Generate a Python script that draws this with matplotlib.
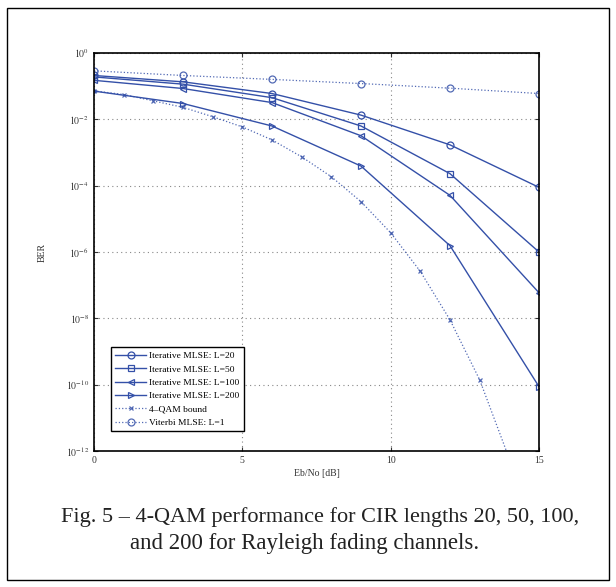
import math
import matplotlib
matplotlib.use("Agg")
import matplotlib.pyplot as plt
from matplotlib.patches import Rectangle
from matplotlib.ticker import FixedLocator, FuncFormatter

plt.rcParams['font.family'] = ['Liberation Serif', 'DejaVu Serif']
plt.rcParams['mathtext.fontset'] = 'stix'

# ---- data ----
snr_iter = [0, 3, 6, 9, 12, 15]
ber_L20 = [0.21, 0.135, 0.06, 0.0134, 1.7e-3, 8.9e-5]
ber_L50 = [0.19, 0.115, 0.045, 0.0063, 2.3e-4, 1.0e-6]
ber_L100 = [0.15, 0.085, 0.032, 0.0032, 5.1e-5, 5.9e-8]
ber_L200 = [0.071, 0.030, 0.0063, 3.9e-4, 1.55e-6, 8.7e-11]
snr_bound = [0, 1, 2, 3, 4, 5, 6, 7, 8, 9, 10, 11, 12, 13, 14]
ber_bound = [0.072, 0.056, 0.036, 0.023, 0.012, 0.0059, 0.0024, 7.4e-4,
             1.86e-4, 3.3e-5, 3.8e-6, 2.6e-7, 9e-9, 1.4e-10, 5.8e-13]
snr_vit = [0, 3, 6, 9, 12, 15]
ber_vit = [0.29, 0.21, 0.16, 0.12, 0.087, 0.06]

labels = ["Iterative MLSE: L=20", "Iterative MLSE: L=50",
          "Iterative MLSE: L=100", "Iterative MLSE: L=200",
          "4\u2013QAM bound", "Viterbi MLSE: L=1"]
xticks = [0, 5, 10, 15]
yticks_exp = [0, -2, -4, -6, -8, -10, -12]
xlabel = "Eb/No [dB]"
ylabel = "BER"
caption_lines = ["Fig. 5 \u2013 4-QAM performance for CIR lengths 20, 50, 100,",
                 "and 200 for Rayleigh fading channels."]

color = '#3450a8'

fig = plt.figure(figsize=(6.16, 5.87), dpi=100)
ax = fig.add_axes([94/616, 1-451/587, 445/616, 398/587])

lw = 1.0
ms = 5
ax.plot(snr_iter, ber_L20, '-', marker='o', color=color, lw=lw, ms=ms, mfc='none', mew=0.9, label=labels[0])
ax.plot(snr_iter, ber_L50, '-', marker='s', color=color, lw=lw, ms=ms-0.5, mfc='none', mew=0.9, label=labels[1])
ax.plot(snr_iter, ber_L100, '-', marker='<', color=color, lw=lw, ms=ms, mfc='none', mew=0.9, label=labels[2])
ax.plot(snr_iter, ber_L200, '-', marker='>', color=color, lw=lw, ms=ms, mfc='none', mew=0.9, label=labels[3])
ax.plot(snr_bound, ber_bound, ':', marker='x', color=color, lw=0.9, ms=3.5, mew=0.9, alpha=0.85, label=labels[4])
ax.plot(snr_vit, ber_vit, ':', marker='o', color=color, lw=0.9, ms=ms, mfc='none', mew=0.9, alpha=0.85, label=labels[5])

ax.set_yscale('log')
ax.set_xlim(0, 15)
ax.set_ylim(1e-12, 1e0)
ax.xaxis.set_major_locator(FixedLocator(xticks))
ax.yaxis.set_major_locator(FixedLocator([10.0**e for e in yticks_exp]))
ax.yaxis.set_minor_locator(FixedLocator([]))
ax.yaxis.set_major_formatter(FuncFormatter(lambda v, p: r'$10^{%d}$' % round(math.log10(v))))
ax.tick_params(which='both', direction='in', top=True, right=True, labelsize=7, length=3, width=0.8, colors='#333333')
ax.grid(True, which='major', linestyle=(0, (1, 3)), color='#888888', lw=0.8)
for s in ax.spines.values():
    s.set_linewidth(1.2)
    s.set_color('black')

ax.set_xlabel(xlabel, fontsize=7, color='#333333', labelpad=3)
ax.set_ylabel(ylabel, fontsize=7, color='#333333', labelpad=14)

leg = ax.legend(loc='lower left', bbox_to_anchor=(0.028, 0.038), fontsize=6.8,
                fancybox=False, framealpha=1, edgecolor='black',
                handlelength=3.2, borderpad=0.45, labelspacing=0.5, handletextpad=0.4)
leg.get_frame().set_linewidth(1.0)

fig.text(320/616, 1-517/587, caption_lines[0], ha='center', va='center', fontsize=16,
         color='#222222')
fig.text(305/616, 1-543/587, caption_lines[1], ha='center', va='center', fontsize=16.5,
         color='#222222')

fig.patches.append(Rectangle((7/616, 1-580/587), 602/616, 572/587, transform=fig.transFigure,
                             fill=False, edgecolor='black', lw=1.0))

fig.savefig('out.png', dpi=100)
